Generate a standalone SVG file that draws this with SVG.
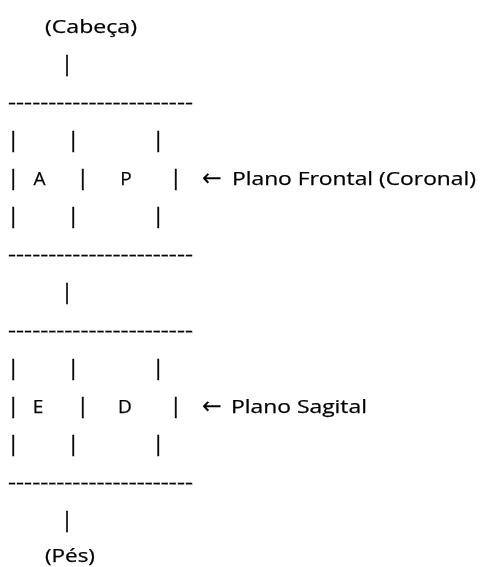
<svg xmlns="http://www.w3.org/2000/svg" width="481" height="567" viewBox="0 0 481 567">
<defs>
<filter id="gray" x="0" y="0" width="481" height="567" filterUnits="userSpaceOnUse"><feOffset dx="0" dy="0"/></filter>
</defs>
<style>
text{font-family:"Open Sans","Noto Sans","Liberation Sans",sans-serif;font-size:19px;fill:#000;stroke:#000;stroke-width:0.25}
.c{text-anchor:middle}
.b{font-size:21px;stroke-width:0.4}
.ar{font-family:"DejaVu Sans",sans-serif;font-size:24px;stroke-width:0}
</style>
<rect width="481" height="567" fill="#fff"/>
<g id="all" filter="url(#gray)">
<g id="head">
<text x="45" y="32.5" textLength="92" lengthAdjust="spacingAndGlyphs">(Cabeça)</text>
<text class="c b" x="67" y="71">|</text>
</g>
<g id="frontal">
<text x="8" y="108.5" textLength="185" lengthAdjust="spacingAndGlyphs">-----------------------</text>
<text class="c b" x="13.3" y="147">|</text><text class="c b" x="73.3" y="147">|</text><text class="c b" x="158.3" y="147">|</text>
<text class="c b" x="13.3" y="185">|</text><text class="c" x="39.5" y="184.5">A</text><text class="c b" x="82.7" y="185">|</text><text class="c" x="126" y="184.5">P</text><text class="c b" x="175.7" y="185">|</text>
<text class="ar" x="202" y="186" textLength="20" lengthAdjust="spacingAndGlyphs">←</text>
<text x="232" y="184.5" textLength="244" lengthAdjust="spacingAndGlyphs">Plano Frontal (Coronal)</text>
<text class="c b" x="13.3" y="223">|</text><text class="c b" x="73.3" y="223">|</text><text class="c b" x="158.3" y="223">|</text>
<text x="8" y="260.5" textLength="185" lengthAdjust="spacingAndGlyphs">-----------------------</text>
</g>
<g id="connector">
<text class="c b" x="67" y="299">|</text>
</g>
<g id="sagital">
<text x="8" y="336.5" textLength="185" lengthAdjust="spacingAndGlyphs">-----------------------</text>
<text class="c b" x="13.3" y="375">|</text><text class="c b" x="73.3" y="375">|</text><text class="c b" x="158.3" y="375">|</text>
<text class="c b" x="13.3" y="413">|</text><text class="c" x="38" y="412.5">E</text><text class="c b" x="82.7" y="413">|</text><text class="c" x="125" y="412.5">D</text><text class="c b" x="175.7" y="413">|</text>
<text class="ar" x="202" y="414" textLength="20" lengthAdjust="spacingAndGlyphs">←</text>
<text x="231" y="412.5" textLength="136" lengthAdjust="spacingAndGlyphs">Plano Sagital</text>
<text class="c b" x="13.3" y="451">|</text><text class="c b" x="73.3" y="451">|</text><text class="c b" x="158.3" y="451">|</text>
<text x="8" y="488.5" textLength="185" lengthAdjust="spacingAndGlyphs">-----------------------</text>
</g>
<g id="feet">
<text class="c b" x="67" y="527">|</text>
<text x="45" y="561.5" textLength="50" lengthAdjust="spacingAndGlyphs">(Pés)</text>
</g>
</g>
</svg>
